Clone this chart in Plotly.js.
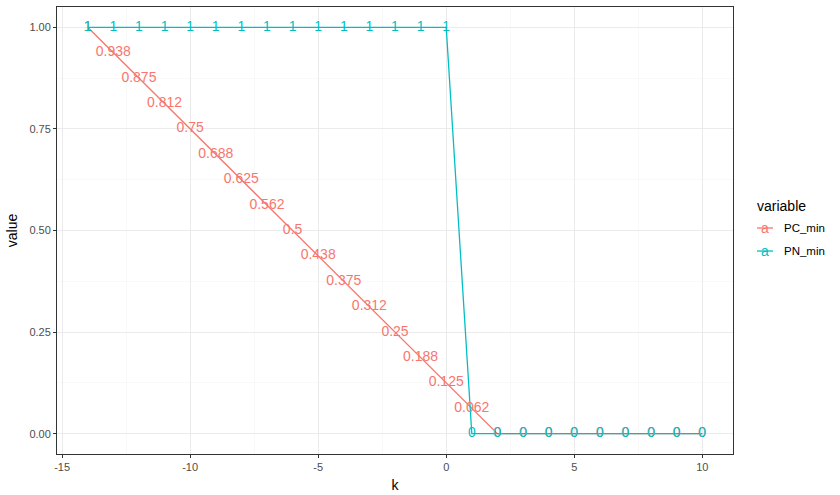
<!DOCTYPE html>
<html>
<head>
<meta charset="utf-8">
<script src="https://cdn.plot.ly/plotly-3.0.1.min.js"></script>
<style>html,body{margin:0;padding:0;background:#fff;}</style>
</head>
<body>
<div id="chart" style="width:840px;height:495px;"></div>
<script>
const k = [-14,-13,-12,-11,-10,-9,-8,-7,-6,-5,-4,-3,-2,-1,0,1,2,3,4,5,6,7,8,9,10];
const pcMin = [1,0.9375,0.875,0.8125,0.75,0.6875,0.625,0.5625,0.5,0.4375,0.375,0.3125,0.25,0.1875,0.125,0.0625,0,0,0,0,0,0,0,0,0];
const pcLabels = ["1","0.938","0.875","0.812","0.75","0.688","0.625","0.562","0.5","0.438","0.375","0.312","0.25","0.188","0.125","0.062","0","0","0","0","0","0","0","0","0"];
const pnMin = [1,1,1,1,1,1,1,1,1,1,1,1,1,1,1,0,0,0,0,0,0,0,0,0,0];
const pnLabels = ["1","1","1","1","1","1","1","1","1","1","1","1","1","1","1","0","0","0","0","0","0","0","0","0","0"];
const seriesNames = ["PC_min","PN_min"];
const seriesColors = ["#F8766D","#00BFC4"];
const xTicks = [-15,-10,-5,0,5,10];
const yTicks = [0,0.25,0.5,0.75,1];
const yTickText = ["0.00","0.25","0.50","0.75","1.00"];

const font = "Liberation Sans, Arial, Helvetica, sans-serif";
const ys = [pcMin, pnMin], labs = [pcLabels, pnLabels];
const traces = [];
// lines first, then text (as in ggplot layer order)
for (let i = 0; i < 2; i++) {
  traces.push({x:k, y:ys[i], name:seriesNames[i], mode:"lines", showlegend:false,
    line:{color:seriesColors[i], width:1.3}});
}
for (let i = 0; i < 2; i++) {
  traces.push({x:k, y:ys[i], text:labs[i], name:seriesNames[i], mode:"text", showlegend:false,
    textposition:"middle center", textfont:{color:seriesColors[i], size:14, family:font}});
}

// manual legend (ggplot style: line + "a" key)
const legX0 = 1.0355, legX1 = 1.0592, legTextX = 1.0725;
const legY = [0.5056, 0.4541];
const shapes = [], annotations = [];
annotations.push({xref:"paper", yref:"paper", x:1.0325, y:0.555, xanchor:"left", yanchor:"middle",
  text:"variable", showarrow:false, font:{size:14, color:"#000", family:font}});
for (let i = 0; i < 2; i++) {
  shapes.push({type:"line", xref:"paper", yref:"paper", x0:legX0, x1:legX1, y0:legY[i], y1:legY[i],
    line:{color:seriesColors[i], width:1.3}});
  annotations.push({xref:"paper", yref:"paper", x:(legX0+legX1)/2, y:legY[i], xanchor:"center", yanchor:"middle",
    text:"a", showarrow:false, font:{size:14, color:seriesColors[i], family:font}});
  annotations.push({xref:"paper", yref:"paper", x:legTextX, y:legY[i], xanchor:"left", yanchor:"middle",
    text:seriesNames[i], showarrow:false, font:{size:11.5, color:"#000", family:font}});
}

const layout = {
  width:840, height:495,
  margin:{l:57, r:107, t:7, b:41},
  paper_bgcolor:"#fff", plot_bgcolor:"#fff",
  font:{family:font, color:"#000"},
  showlegend:false,
  shapes:shapes, annotations:annotations,
  xaxis:{range:[-15.2,11.2], tickvals:xTicks, ticktext:xTicks.map(String), zeroline:false,
    showgrid:true, gridcolor:"#ebebeb", gridwidth:1,
    minor:{dtick:2.5, tick0:-15, showgrid:true, gridcolor:"#f5f5f5", gridwidth:0.6, ticks:""},
    ticks:"outside", ticklen:3, tickcolor:"#333", tickwidth:1,
    tickfont:{size:11, color:"#4d4d4d", family:font},
    showline:true, mirror:true, linecolor:"#333", linewidth:1,
    title:{text:"k", font:{size:14, color:"#000", family:font}, standoff:7}},
  yaxis:{range:[-0.05,1.05], tickvals:yTicks, ticktext:yTickText, zeroline:false,
    showgrid:true, gridcolor:"#ebebeb", gridwidth:1,
    minor:{dtick:0.125, tick0:0, showgrid:true, gridcolor:"#f5f5f5", gridwidth:0.6, ticks:""},
    ticks:"outside", ticklen:3, tickcolor:"#333", tickwidth:1,
    tickfont:{size:11, color:"#4d4d4d", family:font},
    showline:true, mirror:true, linecolor:"#333", linewidth:1,
    title:{text:"value", font:{size:14, color:"#000", family:font}, standoff:8}}
};
Plotly.newPlot("chart", traces, layout, {displayModeBar:false, staticPlot:true});
</script>
</body>
</html>
